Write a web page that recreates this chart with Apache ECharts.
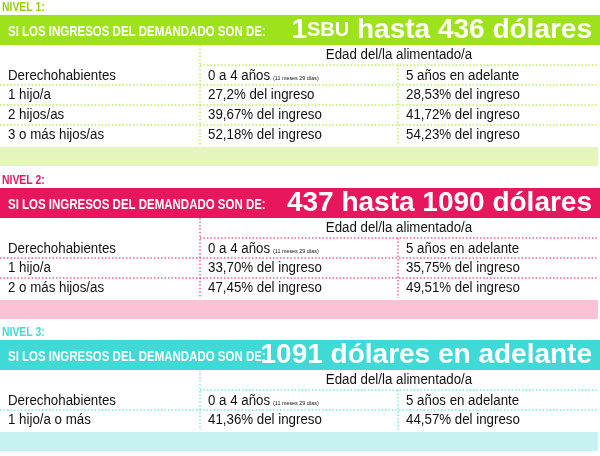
<!DOCTYPE html><html><head><meta charset="utf-8">
<script src="https://cdn.jsdelivr.net/npm/echarts@6/dist/echarts.min.js"></script>
<style>html,body{margin:0;padding:0;background:#fff}#c{width:600px;height:456px}</style></head><body><div id="c"></div>
<script>
const levels = ["NIVEL 1:", "NIVEL 2:", "NIVEL 3:"];
const bannerLead = "SI LOS INGRESOS DEL DEMANDADO SON DE:";
const bannerRanges = [["1", "SBU", " hasta 436 dólares"], ["", "", "437 hasta 1090 dólares"], ["", "", "1091 dólares en adelante"]];
const colHeader = "Edad del/la alimentado/a";
const colLabels = ["Derechohabientes", "0 a 4 años", "(11 meses 29 días)", "5 años en adelante"];
const rows1 = [["1 hijo/a", "27,2% del ingreso", "28,53% del ingreso"], ["2 hijos/as", "39,67% del ingreso", "41,72% del ingreso"], ["3 o más hijos/as", "52,18% del ingreso", "54,23% del ingreso"]];
const rows2 = [["1 hijo/a", "33,70% del ingreso", "35,75% del ingreso"], ["2 o más hijos/as", "47,45% del ingreso", "49,51% del ingreso"]];
const rows3 = [["1 hijo/a o más", "41,36% del ingreso", "44,57% del ingreso"]];
const allRows = [rows1, rows2, rows3];
const mainColors = ["#9ee21c", "#e8175d", "#3fdad6"];
const bandColors = ["#e4f5bd", "#fbc1d4", "#c6f3f1"];
const levelColors = ["#8fd10f", "#e8175d", "#3fdad6"];

const F = "'Liberation Sans',Arial,sans-serif";
const starts = [0, 173, 325];
const rowH = 20, X1 = 200, X2 = 398, R = 598;
const g = [];
function dot(x1, y1, x2, y2, c) {
  g.push({type: 'line', shape: {x1, y1, x2, y2}, style: {stroke: c, lineWidth: 1, lineDash: [1.5, 2]}});
}
function txt(x, y, t, size, fill, opt, sx) {
  g.push({type: 'text', x, y, scaleX: sx || 1, style: Object.assign({text: t, font: size + 'px ' + F, fill, textVerticalAlign: 'middle'}, opt || {})});
}
levels.forEach((lv, i) => {
  const y0 = starts[i], c = mainColors[i], rows = allRows[i];
  txt(2, y0 + 7, lv, 13, levelColors[i], {font: 'bold 13px ' + F}, 0.8);
  const by = y0 + 15;
  g.push({type: 'rect', shape: {x: 0, y: by, width: 600, height: 30}, style: {fill: c}});
  txt(8, by + 17, bannerLead, 14, '#fff', {font: 'bold 14px ' + F}, 0.82);
  const br = bannerRanges[i];
  g.push({type: 'text', x: 592, y: by + 15, style: {
    text: '{a|' + br[0] + '}' + (br[1] ? '{b|' + br[1] + '}' : '') + '{a|' + br[2] + '}',
    align: 'right', verticalAlign: 'middle',
    rich: {a: {fontSize: 28, fontWeight: 'bold', fontFamily: F, fill: '#fff'},
           b: {fontSize: 20, fontWeight: 'bold', fontFamily: F, fill: '#fff'}}}});
  const ty = by + 30;
  txt(X1 + (R - X1) / 2, ty + 10, colHeader, 14, '#111', {textAlign: 'center'}, 0.95);
  dot(X1, ty + 20, R, ty + 20, c);
  txt(8, ty + 31, colLabels[0], 14, '#111', null, 0.95);
  txt(X1 + 8, ty + 31, colLabels[1], 14, '#111', null, 0.95);
  txt(X1 + 73, ty + 33, colLabels[2], 6, '#111', null, 0.9);
  txt(X2 + 8, ty + 31, colLabels[3], 14, '#111', null, 0.95);
  let y = ty + 40;
  rows.forEach(r => {
    dot(0, y, R, y, c);
    txt(8, y + 10, r[0], 14, '#111', null, 0.95);
    txt(X1 + 8, y + 10, r[1], 14, '#111', null, 0.95);
    txt(X2 + 8, y + 10, r[2], 14, '#111', null, 0.95);
    y += rowH;
  });
  dot(X1, ty, X1, y, c);
  dot(X2, ty + 20, X2, y, c);
  g.push({type: 'rect', shape: {x: 0, y: y + 2, width: 598, height: 19}, style: {fill: bandColors[i]}});
});
const chart = echarts.init(document.getElementById('c'));
chart.setOption({graphic: {elements: g}});
</script></body></html>
